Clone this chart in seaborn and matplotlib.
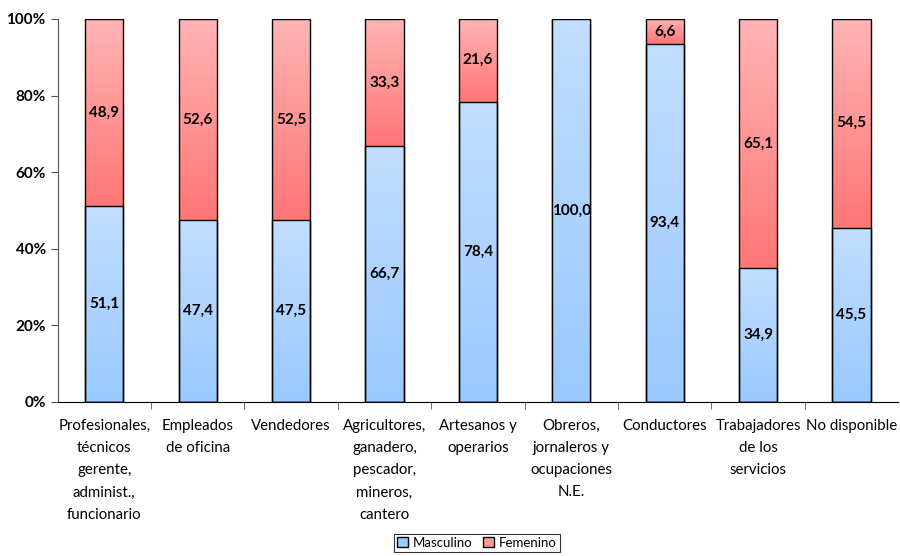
import matplotlib
matplotlib.use("Agg")
import matplotlib.pyplot as plt
import numpy as np
import pandas as pd
import seaborn as sns
from matplotlib.colors import LinearSegmentedColormap
from matplotlib.patches import Patch

categories = ["Profesionales,\ntécnicos\ngerente,\nadminist.,\nfuncionario",
              "Empleados\nde oficina", "Vendedores",
              "Agricultores,\nganadero,\npescador,\nmineros,\ncantero",
              "Artesanos y\noperarios",
              "Obreros,\njornaleros y\nocupaciones\nN.E.",
              "Conductores", "Trabajadores\nde los\nservicios", "No disponible"]
masculino = [51.1, 47.4, 47.5, 66.7, 78.4, 100.0, 93.4, 34.9, 45.5]
femenino = [48.9, 52.6, 52.5, 33.3, 21.6, 0.0, 6.6, 65.1, 54.5]

df = pd.DataFrame({"cat": categories, "Masculino": masculino, "Femenino": femenino})
df["total"] = df["Masculino"] + df["Femenino"]

sns.set_style("white")
plt.rcParams["font.family"] = ["Lato", "DejaVu Sans"]
plt.rcParams["text.color"] = "black"
plt.rcParams["xtick.color"] = "black"
plt.rcParams["ytick.color"] = "black"

fig = plt.figure(figsize=(9, 5.56), dpi=100)
ax = fig.add_axes([0.064, 0.277, 0.934, 0.689])

w = 0.41
sns.barplot(data=df, x="cat", y="total", color="#ff9999", width=w, ax=ax,
            edgecolor="black", linewidth=1.0)
n_top = len(ax.patches)
sns.barplot(data=df, x="cat", y="Masculino", color="#99ccff", width=w, ax=ax,
            edgecolor="black", linewidth=1.0)

blue_cm = LinearSegmentedColormap.from_list("b", ["#99c9ff", "#c2deff"])
red_cm = LinearSegmentedColormap.from_list("r", ["#ff7676", "#ffb4b4"])
grad = np.linspace(0, 1, 256).reshape(-1, 1)

ax.set_xlim(-0.5, len(categories) - 0.5)
ax.set_ylim(0, 100)

for i, p in enumerate(ax.patches):
    x0, y0 = p.get_x(), p.get_y()
    pw, ph = p.get_width(), p.get_height()
    if ph <= 0:
        continue
    cm = red_cm if i < n_top else blue_cm
    if i < n_top:
        # red part only spans from the top of masculino up to 100
        y0 = masculino[i]
        ph = 100 - masculino[i]
        if ph <= 0:
            continue
    im = ax.imshow(grad, cmap=cm, origin="lower", aspect="auto",
                   extent=[x0, x0 + pw, y0, y0 + ph], zorder=1.5,
                   interpolation="bilinear")
    im.set_clip_path(p)
    p.set_facecolor("none")
    p.set_zorder(2)

# value labels
for i in range(len(categories)):
    m, f = masculino[i], femenino[i]
    ax.text(i, m / 2, f"{m:.1f}".replace(".", ","), ha="center", va="center",
            fontsize=11, fontweight="bold", color="black", zorder=3)
    if f > 0:
        ax.text(i, m + f / 2, f"{f:.1f}".replace(".", ","), ha="center",
                va="center", fontsize=11, fontweight="bold", color="black",
                zorder=3)

ax.set_xlim(-0.5, len(categories) - 0.5)
ax.set_ylim(0, 100)
ax.set_yticks(range(0, 101, 20))
ax.set_yticklabels([f"{v}%" for v in range(0, 101, 20)], fontsize=11,
                   fontweight="bold")
ax.set_xticks(range(len(categories)))
ax.set_xticklabels(categories, fontsize=10.8, linespacing=1.75)
ax.set_xticks(np.arange(0.5, len(categories) - 0.5, 1), minor=True)
ax.tick_params(axis="x", which="major", length=0, pad=12)
ax.tick_params(axis="x", which="minor", length=5, color="#555555",
               direction="out", bottom=True)
ax.tick_params(axis="y", length=5, color="#555555", direction="out", left=True)
ax.set_xlabel("")
ax.set_ylabel("")
for s in ["top", "right"]:
    ax.spines[s].set_visible(False)
ax.spines["left"].set_color("#555555")
ax.spines["bottom"].set_color("black")

handles = [Patch(facecolor="#99ccff", edgecolor="black", label="Masculino"),
           Patch(facecolor="#ff9999", edgecolor="black", label="Femenino")]
leg = fig.legend(handles=handles, loc="lower center", ncol=2,
                 bbox_to_anchor=(0.53, -0.005), frameon=True, fontsize=9.5,
                 handlelength=0.8, handleheight=0.8, handletextpad=0.4,
                 columnspacing=0.8, borderpad=0.25, fancybox=False)
leg.get_frame().set_edgecolor("black")
leg.get_frame().set_linewidth(0.8)

fig.savefig("out.png", dpi=100)
